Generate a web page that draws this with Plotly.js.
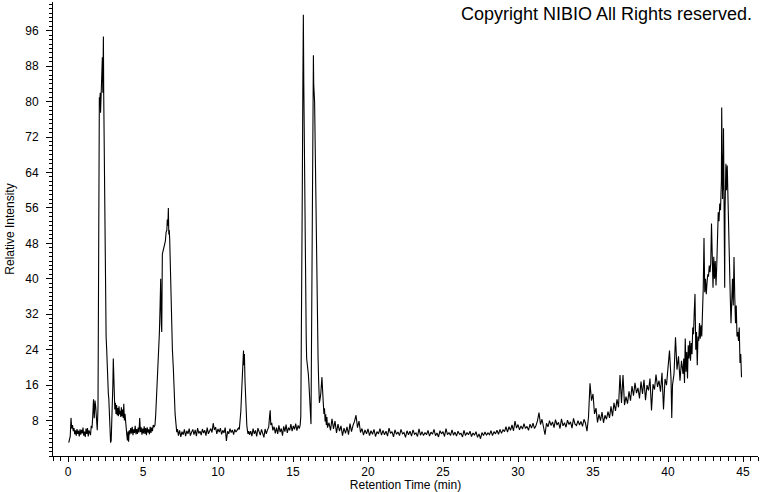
<!DOCTYPE html>
<html>
<head>
<meta charset="utf-8">
<script src="https://cdn.plot.ly/plotly-3.0.1.min.js"></script>
<style>html,body{margin:0;padding:0;background:#fff;}#chart{width:760px;height:492px;}</style>
</head>
<body>
<div id="chart"></div>
<script>
// Retention time (min) and relative intensity, in segments
const rtA = [0.05,0.1,0.15,0.2,0.25,0.3,0.35,0.4,0.45,0.5,0.55,0.6,0.65,0.7,0.75,0.8,0.85,0.9,0.95,1.0,
  1.05,1.1,1.15,1.2,1.25,1.3,1.35,1.4,1.45,1.5,1.55,1.6,1.65,1.7,1.75,1.8,1.85,1.9,1.95,2.0];
const riA = [3.0,3.8,4.5,8.6,6.2,7.0,5.6,6.3,4.9,5.8,4.6,6.1,5.0,5.7,4.4,6.0,4.8,5.9,5.1,6.4,
  4.6,5.5,4.3,6.2,5.0,6.3,4.4,5.8,5.2,4.7,6.8,6.3,9.0,12.8,8.5,12.5,11.0,7.0,5.8,11.0];

const rtB = [2.03,2.06,2.09,2.12,2.15,2.17,2.2,2.23,2.26,2.29,2.32,2.34,2.36,2.38,2.41,2.44,2.47,2.5,2.54,2.58,
  2.62,2.66,2.69,2.72,2.76,2.8,2.84,2.88,2.92,2.96,2.99,3.02,3.05,3.08];
const riB = [55,78,81,80,82,77.5,82,80.5,86,90,82,89,94.7,82,68,55,40,31,27,24,
  18,15,14,13,9,6.5,3,3.5,7,12.5,16,22,16.5,13];

const rtC = [3.12,3.16,3.2,3.24,3.28,3.32,3.36,3.4,3.44,3.48,3.52,3.56,3.6,3.64,3.68,3.72,3.76,3.8,3.84,3.88,
  3.92,3.96,4.0,4.04,4.08,4.13,4.18,4.23,4.28,4.33,4.38,4.43,4.48,4.53,4.58,4.63,4.68,4.73,4.78,4.83,
  4.88,4.93,4.98,5.03,5.08,5.13,5.18,5.23,5.28,5.33,5.38,5.43,5.48,5.53,5.58,5.63,5.68,5.73];
const riC = [10.5,12,9.5,11.5,9.2,10.8,9.0,11.2,9.4,10.2,8.8,11.0,9.0,10.5,8.6,11.8,8.0,9.5,7.0,6.0,
  4.8,3.5,5.5,3.2,5.8,4.9,6.3,5.1,6.6,4.7,6.0,5.2,6.8,4.9,6.1,5.0,6.4,5.3,8.6,5.4,
  6.5,4.8,6.2,5.1,6.7,5.0,6.3,4.7,6.5,5.3,6.0,4.9,6.6,5.2,6.4,5.6,7.0,6.5];

const rtD = [5.8,5.85,5.9,5.96,6.02,6.09,6.14,6.18,6.22,6.25,6.29,6.34,6.39,6.44,6.49,6.54,6.59,6.62,6.66,6.69,
  6.72,6.75,6.78,6.8,6.84,6.88,6.91,6.96,7.02,7.06,7.09,7.14,7.2,7.25,7.3];
const riD = [7,9.5,13,16.5,20,27.6,34,40,30,28,45.6,46.5,47,47.5,48.5,50.5,51,53.4,52,56,
  50,51,49,46,40,32,27.6,24,20,15,13,9.5,7.2,5.4,6.1];

const rtE = [7.36,7.44,7.52,7.6,7.68,7.76,7.84,7.92,8.0,8.08,
  8.16,8.24,8.32,8.4,8.48,8.56,8.64,8.72,8.8,8.88,
  8.96,9.04,9.12,9.2,9.28,9.36,9.44,9.52,9.6,9.68,
  9.76,9.84,9.92,10.0,10.08,10.16,10.24,10.32,10.4,10.48,
  10.56,10.64,10.72,10.8,10.88,10.96,11.04,11.12,11.2,11.28,11.36];
const riE = [4.6,5.8,4.3,5.5,4.8,6.0,4.5,5.7,5.0,6.2,
  4.6,5.4,6.0,4.8,5.9,4.5,6.3,5.1,5.6,4.7,
  6.1,5.2,5.8,4.6,6.4,5.0,5.5,6.2,5.3,7.4,
  5.9,6.5,5.0,6.1,5.4,6.3,4.9,5.8,5.2,6.4,
  3.4,5.6,5.0,6.2,5.3,5.9,4.8,6.0,5.4,5.8,6.3];

const rtF = [11.42,11.47,11.52,11.57,11.62,11.67,11.7,11.73,11.76,11.8,11.84,11.88,11.92,11.96,12.0,12.05,12.1];
const riF = [6.0,7.5,10,14,18.5,22,23.8,20.5,23,17,12,9,7,5.8,5.0,5.6,4.8];

const rtG = [12.18,12.26,12.34,12.42,12.5,12.58,12.66,12.74,12.82,12.9,
  12.98,13.06,13.14,13.22,13.3,13.38,13.44,13.48,13.52,13.58,
  13.66,13.74,13.82,13.9,13.98,14.06,14.14,14.22,14.3,14.38,
  14.46,14.54,14.62,14.7,14.78,14.86,14.94,15.02,15.1,15.18,
  15.26,15.34,15.42];
const riG = [5.6,4.5,6.2,5.0,5.8,4.4,6.3,5.2,4.7,6.0,
  5.3,4.2,6.1,5.0,5.9,6.5,9.0,10.3,7.0,7.5,
  5.8,6.6,5.1,6.4,5.0,6.9,5.4,6.2,4.6,6.7,
  5.5,7.1,5.2,6.4,5.8,7.2,5.6,6.8,6.0,7.3,
  5.7,6.9,6.2];

const rtH = [15.48,15.52,15.55,15.58,15.62,15.66,15.69,15.72,15.75,15.78,
  15.8,15.84,15.88,15.91,15.95,15.99,16.02,16.06,16.1,16.13,
  16.17,16.2,16.22,16.24,16.27,16.29,16.32,16.34,16.36,16.38,
  16.41,16.44,16.48,16.51,16.55,16.58,16.62,16.65,16.67,16.71,
  16.76,16.8,16.85,16.89,16.93,16.97,17.02,17.06,17.1,17.14,
  17.18,17.22,17.26,17.3];
const riH = [7.0,9,20,33,60,85,99.6,84,70,58,
  51,38,27,22,21,19,18.6,16.5,14,11.5,
  8.5,7.2,18,33,55,71.4,84,86,90.5,84,
  82,80,70,60,50,42.5,33,26,22.3,17,
  12,12.8,14,16,17.8,15,12.5,9.5,10.8,7.8,
  9.4,7.0,8.8,6.4];

const rtI = [17.4,17.5,17.6,17.7,17.8,17.9,18.0,18.1,18.2,18.3,
  18.4,18.5,18.6,18.7,18.8,18.9,19.0,19.1,19.2,19.3,
  19.4,19.5,19.6,19.7,19.8,19.9,20.0,20.1,20.2,20.3,
  20.4,20.5,20.6,20.7,20.8,20.9,21.0,21.1,21.2,21.3,
  21.4,21.5,21.6,21.7,21.8,21.9,22.0,22.1,22.2,22.3,
  22.4,22.5,22.6,22.7,22.8,22.9,23.0,23.1,23.2,23.3,
  23.4,23.5,23.6,23.7,23.8,23.9,24.0,24.1,24.2,24.3,
  24.4,24.5,24.6,24.7,24.8,24.9,25.0,25.1,25.2,25.3,
  25.4,25.5,25.6,25.7,25.8,25.9,26.0,26.1,26.2,26.3,
  26.4,26.5,26.6,26.7,26.8,26.9,27.0,27.1,27.2,27.3,
  27.4,27.5,27.6,27.7,27.8,27.9,28.0,28.1,28.2,28.3,
  28.4,28.5,28.6,28.7,28.8,28.9,29.0,29.1,29.2,29.3,
  29.4,29.5,29.6,29.7,29.8,29.9,30.0,30.1,30.2,30.3,
  30.4,30.5,30.6,30.7,30.8,30.9,31.0,31.1,31.2,31.3,
  31.4,31.5,31.6,31.7,31.8,31.9,32.0,32.1,32.2,32.3,
  32.4,32.5,32.6,32.7,32.8,32.9,33.0,33.1,33.2,33.3,
  33.4,33.5,33.6,33.7,33.8,33.9,34.0,34.1,34.2,34.3,
  34.4,34.5,34.6,34.7];
const riI = [7.5,5.8,8.4,6.1,7.9,5.2,7.2,5.6,6.8,4.6,
  6.3,5.1,6.6,4.8,7.3,5.5,6.9,7.8,9.2,6.4,
  7.9,5.3,6.2,4.7,5.9,5.0,6.1,4.6,5.7,4.9,
  6.0,4.4,5.5,5.0,6.2,4.7,5.8,4.8,5.6,4.5,
  6.3,5.1,5.5,4.3,5.9,4.9,5.4,4.6,6.0,5.0,
  5.3,4.2,5.7,4.8,5.6,4.5,5.9,4.9,5.2,4.4,
  6.1,4.7,5.5,4.6,5.3,4.8,5.8,4.5,5.4,4.9,
  6.0,4.6,5.2,4.3,5.7,5.0,5.5,4.4,6.2,4.8,
  5.3,4.6,5.9,4.7,5.4,4.5,5.6,4.9,5.1,4.3,
  5.8,4.6,5.3,4.8,5.6,4.4,5.2,4.7,5.5,4.2,
  5.0,3.9,5.3,4.6,5.4,4.7,5.2,4.8,5.7,4.6,
  5.5,5.0,5.8,4.9,6.0,5.1,5.9,5.5,6.6,5.4,
  6.6,5.8,7.0,5.7,7.9,6.3,7.1,5.9,6.8,6.1,
  7.3,6.2,6.7,5.8,7.2,6.3,7.4,6.2,6.9,8.0,
  9.8,7.1,8.3,6.5,4.8,7.4,6.6,8.0,6.9,7.7,
  6.4,8.2,7.0,7.6,6.2,8.4,6.8,7.5,6.5,8.1,
  7.1,7.7,6.3,8.5,7.2,6.9,8.0,7.0,7.8,6.7,
  8.3,7.4,5.6,8.8];

const rtJ = [34.8,34.9,35.0,35.1,35.2,35.3,35.4,35.5,35.6,35.7,
  35.8,35.9,36.0,36.1,36.2,36.3,36.4,36.5,36.6,36.7,
  36.8,36.9,37.0,37.1,37.2,37.3,37.4,37.5,37.6,37.7,
  37.8,37.9,38.0,38.1,38.2,38.3,38.4,38.5,38.6,38.7,
  38.8,38.9,39.0,39.1,39.2,39.3,39.4,39.5,39.6,39.7,
  39.8,39.9,40.0,40.1,40.2,40.25,40.3,40.4,40.5,40.6,40.7,40.8,40.9];
const riJ = [16.4,12.5,14.0,9.5,10.8,7.6,9.4,8.0,9.9,7.5,
  9.2,8.3,10.0,8.6,11.2,9.0,12.0,10.2,12.8,11.0,
  18.3,12.0,18.3,11.5,13.4,11.8,14.6,12.5,15.8,13.6,
  16.5,14.2,15.4,13.0,16.8,14.0,17.2,12.6,16.0,14.8,
  17.5,10.3,16.2,15.0,18.4,15.6,17.0,14.5,18.8,10.5,
  17.4,16.0,19.5,23.8,17.5,8.6,16.0,18.5,26.8,19.5,22.5,17.0,21.5];

const rtK = [41.0,41.05,41.1,41.15,41.2,41.25,41.3,41.35,41.4,41.45,
  41.5,41.55,41.6,41.65,41.7,41.75,41.8,41.85,41.9,41.95,
  42.0,42.05,42.1,42.15,42.2,42.25,42.3,42.35,42.4,42.45,
  42.5,42.55,42.6,42.65,42.7,42.75,42.8,42.85,42.9,42.95,
  43.0,43.05,43.1,43.15,43.2,43.25,43.3,43.35,43.4,43.45,
  43.5,43.52,43.54,43.56,43.58,43.6,43.62,43.64,43.66,43.68,
  43.7,43.72,43.74,43.76,43.78,43.8,43.82,43.84,43.86,43.9,
  43.95,44.0,44.05,44.1,44.15,44.2,44.25,44.3,44.35,44.4,
  44.45,44.5,44.55,44.6,44.65,44.7,44.75,44.8,44.85,44.9];
const riK = [18.5,22.0,16.5,26.5,19.0,23.5,17.5,25.0,22.0,26.0,
  21.5,25.5,23.0,29.0,27.5,32.5,36.6,24.0,28.0,20.5,
  27.0,26.0,30.0,26.5,29.5,27.0,31.0,38.0,49.2,37.0,
  40.0,36.5,39.0,41.0,40.5,43.0,41.5,43.5,52.5,46.0,
  38.0,45.0,40.0,44.0,38.5,43.0,51.0,55.0,53.0,57.0,
  55.5,58,56,62,78.7,60,66,58,68,60,
  74,62,67,58,38,55,64,60,66,60,
  65.6,58,48,43,36,30,37,40,34,44.9,
  36,30,34,27,28,26,29,21,23,17.8];

const yTickVals = [8,16,24,32,40,48,56,64,72,80,88,96];
const titleText = 'Copyright NIBIO All Rights reserved.';
const xTitleText = 'Retention Time (min)';
const yTitleText = 'Relative Intensity';

const retentionTime = [].concat(rtA, rtB, rtC, rtD, rtE, rtF, rtG, rtH, rtI, rtJ, rtK);
const relativeIntensity = [].concat(riA, riB, riC, riD, riE, riF, riG, riH, riI, riJ, riK);

const font = 'Liberation Sans, Arial, sans-serif';

Plotly.newPlot('chart', [{
  type: 'scatter',
  mode: 'lines',
  x: retentionTime,
  y: relativeIntensity,
  line: {color: '#000', width: 1.1},
  hoverinfo: 'skip'
}], {
  width: 760,
  height: 492,
  margin: {l: 53, r: 2, t: 2, b: 36, pad: 0},
  paper_bgcolor: '#fff',
  plot_bgcolor: '#fff',
  showlegend: false,
  font: {family: font, size: 12, color: '#000'},
  title: {
    text: titleText,
    font: {family: font, size: 18, color: '#000'},
    xref: 'container', yref: 'container',
    x: 0.9895, xanchor: 'right',
    y: 0.972, yanchor: 'middle'
  },
  xaxis: {
    range: [-1, 46],
    tickmode: 'linear', tick0: 0, dtick: 5,
    ticks: 'outside', ticklen: 5, tickwidth: 1, tickcolor: '#000',
    minor: {tickmode: 'linear', tick0: 0, dtick: 0.5, ticks: 'outside', ticklen: 4, tickwidth: 1, tickcolor: '#000'},
    showline: true, linecolor: '#000', linewidth: 1,
    showgrid: false, zeroline: false,
    tickfont: {family: font, size: 12, color: '#000'},
    automargin: false,
    title: {text: xTitleText, font: {family: font, size: 12, color: '#000'}}
  },
  yaxis: {
    range: [0, 102.5],
    tickmode: 'array', tickvals: yTickVals,
    ticks: 'outside', ticklen: 6, tickwidth: 1, tickcolor: '#000',
    minor: {tickmode: 'linear', tick0: 0, dtick: 1, ticks: 'outside', ticklen: 3, tickwidth: 1, tickcolor: '#000'},
    showline: true, linecolor: '#000', linewidth: 1,
    showgrid: false, zeroline: false,
    tickfont: {family: font, size: 12, color: '#000'},
    ticklabelstandoff: 5,
    automargin: false,
    title: {text: yTitleText, font: {family: font, size: 12, color: '#000'}, standoff: 8}
  }
}, {staticPlot: true, displayModeBar: false});
</script>
</body>
</html>
